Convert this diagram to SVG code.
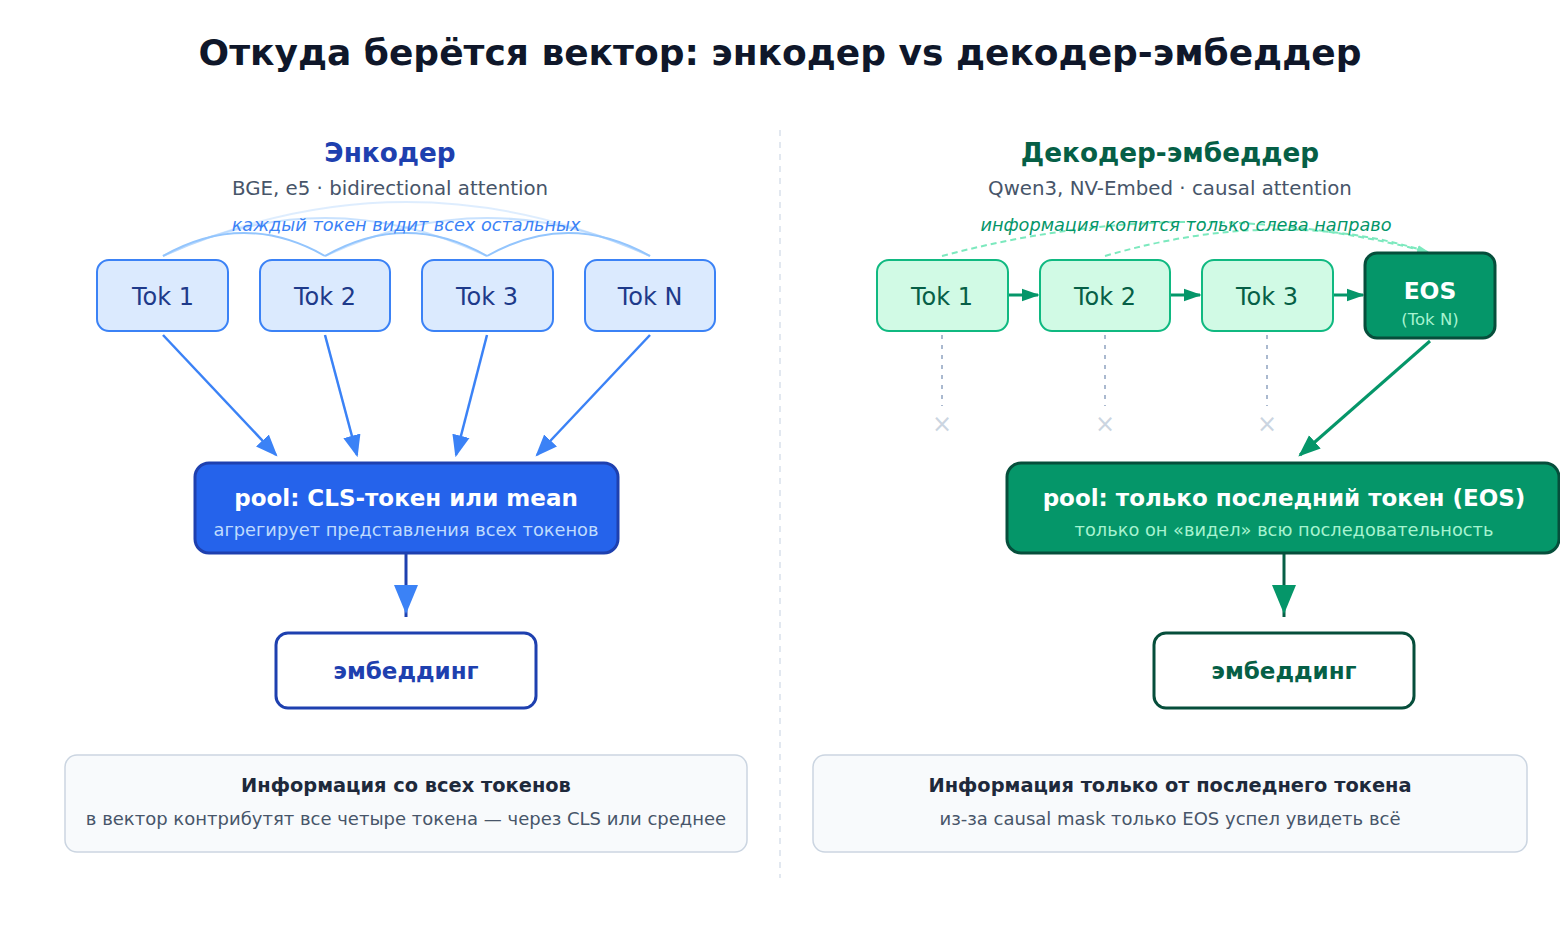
<svg xmlns="http://www.w3.org/2000/svg" width="1560" height="942" viewBox="0 0 1560 942">
<defs>
<marker id="hb" viewBox="0 0 10 10" refX="9" refY="5" markerWidth="22" markerHeight="22" markerUnits="userSpaceOnUse" orient="auto"><path d="M0,1 L10,5 L0,9 z" fill="#3b82f6"/></marker>
<marker id="hg" viewBox="0 0 10 10" refX="9" refY="5" markerWidth="22" markerHeight="22" markerUnits="userSpaceOnUse" orient="auto"><path d="M0,1 L10,5 L0,9 z" fill="#059669"/></marker>
<marker id="hgs" viewBox="0 0 10 10" refX="9" refY="5" markerWidth="18" markerHeight="18" markerUnits="userSpaceOnUse" orient="auto"><path d="M0,1.5 L10,5 L0,8.5 z" fill="#059669"/></marker>
<marker id="hgl" viewBox="0 0 10 10" refX="9" refY="5" markerWidth="12" markerHeight="12" markerUnits="userSpaceOnUse" orient="auto"><path d="M0,1.5 L10,5 L0,8.5 z" fill="#6ee7b7"/></marker>
</defs>
<style>
text{font-family:"DejaVu Sans","Liberation Sans",sans-serif;text-anchor:middle}
.title{font-size:36px;font-weight:bold;fill:#0f172a}
.hl{font-size:26.3px;font-weight:bold}
.sub{font-size:19.8px;fill:#475569}
.note{font-size:17.7px;font-style:italic}
.tokB rect{fill:#dbeafe;stroke:#3b82f6;stroke-width:2}
.tokB text{font-size:24px;fill:#1e3a8a}
.tokG rect{fill:#d1fae5;stroke:#10b981;stroke-width:2}
.tokG text{font-size:24px;fill:#065f46}
.arc{fill:none;stroke:#93c5fd;stroke-width:2}
.ptitle{font-size:23px;font-weight:bold;fill:#ffffff}
.psub{font-size:17.8px}
.emb{font-size:23px;font-weight:bold}
.sumbox{fill:#f8fafc;stroke:#cbd5e1;stroke-width:1.5}
.sumt{font-size:19.4px;font-weight:bold;fill:#1e293b}
.sums{font-size:18px;fill:#475569}
</style>
<rect width="1560" height="942" fill="#ffffff"/>
<text class="title" x="780" y="65">Откуда берётся вектор: энкодер vs декодер-эмбеддер</text>
<line x1="780" y1="130" x2="780" y2="878" stroke="#e2e8f0" stroke-width="2" stroke-dasharray="6,6"/>

<g id="left-header">
<text class="hl" x="390" y="162" fill="#1e40af">Энкодер</text>
<text class="sub" x="390" y="195">BGE, e5 · bidirectional attention</text>
</g>
<g id="right-header">
<text class="hl" x="1170" y="162" fill="#065f46">Декодер-эмбеддер</text>
<text class="sub" x="1170" y="195">Qwen3, NV-Embed · causal attention</text>
</g>

<g id="connectors">
<g id="attn-arcs">
<path class="arc" d="M163,256 Q406,148 650,256" opacity="0.3"/>
<path class="arc" d="M163,256 Q325,180 487,256" opacity="0.5"/>
<path class="arc" d="M325,256 Q487,180 650,256" opacity="0.5"/>
<path class="arc" d="M163,256 Q244,210 325,256" opacity="1"/>
<path class="arc" d="M325,256 Q406,210 487,256" opacity="1"/>
<path class="arc" d="M487,256 Q568,210 650,256" opacity="1"/>
</g>
<text class="note" x="406" y="231" fill="#3b82f6">каждый токен видит всех остальных</text>
<g fill="none" stroke="#3b82f6" stroke-width="2.5">
<line x1="163" y1="335" x2="276" y2="455" marker-end="url(#hb)"/>
<line x1="325" y1="335" x2="357" y2="455" marker-end="url(#hb)"/>
<line x1="487" y1="335" x2="456" y2="455" marker-end="url(#hb)"/>
<line x1="650" y1="335" x2="537" y2="455" marker-end="url(#hb)"/>
</g>
<line x1="406" y1="553" x2="406" y2="617" stroke="#1e40af" stroke-width="3"/>
<path d="M394,585 L418,585 L406,614 z" fill="#3b82f6"/>

<g fill="none" stroke="#6ee7b7" stroke-width="2" stroke-dasharray="6,4" opacity="0.9">
<path d="M942,256 Q1190,190 1428,252" marker-end="url(#hgl)"/>
<path d="M1105,256 Q1280,205 1428,252"/>
</g>
<text class="note" x="1186" y="231" fill="#059669">информация копится только слева направо</text>
<g stroke="#059669" stroke-width="3" fill="none">
<line x1="1008" y1="295" x2="1038" y2="295" marker-end="url(#hgs)"/>
<line x1="1170" y1="295" x2="1200" y2="295" marker-end="url(#hgs)"/>
<line x1="1333" y1="295" x2="1363" y2="295" marker-end="url(#hgs)"/>
</g>
<g stroke="#8ea2c0" stroke-width="1.5" stroke-dasharray="4,6">
<line x1="942" y1="335" x2="942" y2="406"/>
<line x1="1105" y1="335" x2="1105" y2="406"/>
<line x1="1267" y1="335" x2="1267" y2="406"/>
</g>
<g fill="#cbd5e1" font-size="24">
<text x="942" y="432">×</text>
<text x="1105" y="432">×</text>
<text x="1267" y="432">×</text>
</g>
<line x1="1430" y1="341" x2="1300" y2="455" stroke="#059669" stroke-width="3" marker-end="url(#hg)"/>
<line x1="1284" y1="553" x2="1284" y2="617" stroke="#065f46" stroke-width="3"/>
<path d="M1272,585 L1296,585 L1284,614 z" fill="#059669"/>
</g>

<g id="enc-tok1" class="tokB"><rect x="97" y="260" width="131" height="71" rx="12"/><text x="163" y="305">Tok 1</text></g>
<g id="enc-tok2" class="tokB"><rect x="260" y="260" width="130" height="71" rx="12"/><text x="325" y="305">Tok 2</text></g>
<g id="enc-tok3" class="tokB"><rect x="422" y="260" width="131" height="71" rx="12"/><text x="487" y="305">Tok 3</text></g>
<g id="enc-tokN" class="tokB"><rect x="585" y="260" width="130" height="71" rx="12"/><text x="650" y="305">Tok N</text></g>

<g id="enc-pool">
<rect x="195" y="463" width="423" height="90" rx="14" fill="#2563eb" stroke="#1e40af" stroke-width="3"/>
<text class="ptitle" x="406" y="506">pool: CLS-токен или mean</text>
<text class="psub" x="406" y="536" fill="#bfdbfe">агрегирует представления всех токенов</text>
</g>
<g id="enc-emb">
<rect x="276" y="633" width="260" height="75" rx="12" fill="#ffffff" stroke="#1e40af" stroke-width="3"/>
<text class="emb" x="406" y="679" fill="#1e40af">эмбеддинг</text>
</g>

<g id="dec-tok1" class="tokG"><rect x="877" y="260" width="131" height="71" rx="12"/><text x="942" y="305">Tok 1</text></g>
<g id="dec-tok2" class="tokG"><rect x="1040" y="260" width="130" height="71" rx="12"/><text x="1105" y="305">Tok 2</text></g>
<g id="dec-tok3" class="tokG"><rect x="1202" y="260" width="131" height="71" rx="12"/><text x="1267" y="305">Tok 3</text></g>
<g id="dec-eos">
<rect x="1365" y="253" width="130" height="85" rx="12" fill="#059669" stroke="#064e3b" stroke-width="3"/>
<text x="1430" y="299" font-size="23.4" font-weight="bold" fill="#ffffff">EOS</text>
<text x="1430" y="325" font-size="16.5" fill="#a7f3d0">(Tok N)</text>
</g>

<g id="dec-pool">
<rect x="1007" y="463" width="552" height="90" rx="14" fill="#059669" stroke="#064e3b" stroke-width="3"/>
<text class="ptitle" x="1284" y="506">pool: только последний токен (EOS)</text>
<text class="psub" x="1284" y="536" fill="#a7f3d0">только он «видел» всю последовательность</text>
</g>
<g id="dec-emb">
<rect x="1154" y="633" width="260" height="75" rx="12" fill="#ffffff" stroke="#064e3b" stroke-width="3"/>
<text class="emb" x="1284" y="679" fill="#065f46">эмбеддинг</text>
</g>

<g id="enc-summary">
<rect class="sumbox" x="65" y="755" width="682" height="97" rx="12"/>
<text class="sumt" x="406" y="792">Информация со всех токенов</text>
<text class="sums" x="406" y="825">в вектор контрибутят все четыре токена — через CLS или среднее</text>
</g>
<g id="dec-summary">
<rect class="sumbox" x="813" y="755" width="714" height="97" rx="12"/>
<text class="sumt" x="1170" y="792">Информация только от последнего токена</text>
<text class="sums" x="1170" y="825">из-за causal mask только EOS успел увидеть всё</text>
</g>
</svg>
